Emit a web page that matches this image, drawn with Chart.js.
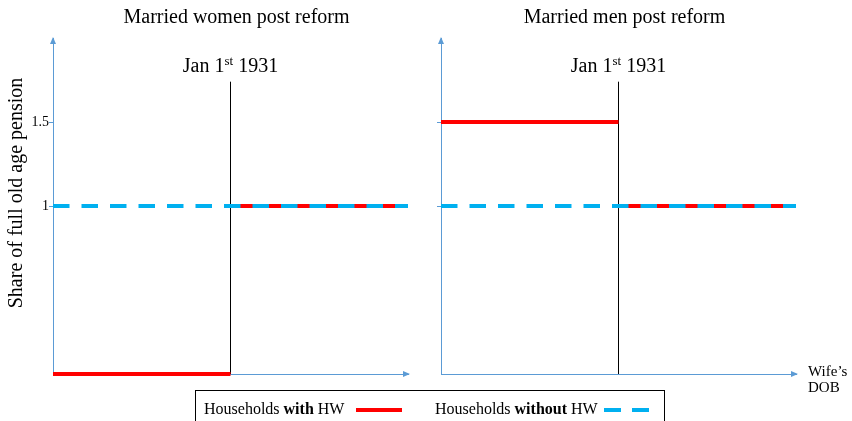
<!DOCTYPE html>
<html>
<head>
<meta charset="utf-8">
<script src="https://cdn.jsdelivr.net/npm/chart.js@4"></script>
<style>
  body { margin: 0; background: #fff; overflow: hidden; }
  .wrap { position: absolute; top: 0; height: 421px; }
  #legend {
    position: absolute; left: 195px; top: 390px; width: 468px; height: 50px;
    border: 1px solid #000; font-family: "Liberation Serif", "Times New Roman", serif;
    font-size: 16px; color: #000;
  }
  #legend span { position: absolute; top: 9px; white-space: nowrap; line-height: 18px; }
  #legend i { position: absolute; display: block; top: 17px; height: 4px; }
</style>
</head>
<body>
<div class="wrap" style="left:0;width:430px"><canvas id="women"></canvas></div>
<div class="wrap" style="left:430px;width:422px"><canvas id="men"></canvas></div>
<div id="legend">
  <span style="left:8px">Households <b>with</b> HW</span>
  <i style="left:160px;width:46px;background:#ff0000"></i>
  <span style="left:239px">Households <b>without</b> HW</span>
  <i style="left:408px;width:17px;background:#00b0f0"></i>
  <i style="left:436px;width:17px;background:#00b0f0"></i>
</div>
<script>
const panelTitles = ["Married women post reform", "Married men post reform"];
const cutoffText = ["Jan 1", "st", " 1931"];
const xRange = [0, 2];
const cutoffX = 1;
const withHWBefore = [0, 1.5];
const withHWAfter = [1, 1];
const withoutHW = [1, 1];
const cutoffLineTop = 1.74;
const yRange = [0, 2];
const yTickValues = [1, 1.5];
const yTitle = "Share of full old age pension";
const xTitle = ["Wife\u2019s", "DOB"];

const serif = '"Liberation Serif", "Times New Roman", serif';
const axisColor = "#5b9bd5";
const red = "#ff0000";
const blue = "#00b0f0";

const decor = {
  id: "decor",
  afterDraw(chart, args, opts) {
    const ctx = chart.ctx;
    const area = chart.chartArea;
    const x = chart.scales.x;
    const y = chart.scales.y;
    const cx = x.getPixelForValue(cutoffX);
    ctx.save();
    ctx.fillStyle = "#000";
    ctx.textBaseline = "alphabetic";

    // panel title
    ctx.font = "20px " + serif;
    ctx.textAlign = "center";
    ctx.fillText(opts.title, cx + 6, 23);

    // cutoff label with superscript
    const by = y.getPixelForValue(cutoffLineTop) - 10;
    ctx.font = "20px " + serif;
    const w1 = ctx.measureText(cutoffText[0]).width;
    const w3 = ctx.measureText(cutoffText[2]).width;
    ctx.font = "13px " + serif;
    const w2 = ctx.measureText(cutoffText[1]).width;
    let sx = cx - (w1 + w2 + w3) / 2;
    ctx.textAlign = "left";
    ctx.font = "20px " + serif;
    ctx.fillText(cutoffText[0], sx, by);
    ctx.font = "13px " + serif;
    ctx.fillText(cutoffText[1], sx + w1, by - 7);
    ctx.font = "20px " + serif;
    ctx.fillText(cutoffText[2], sx + w1 + w2, by);

    // axis arrows
    ctx.fillStyle = axisColor;
    ctx.beginPath();
    ctx.moveTo(area.left, area.top - 1);
    ctx.lineTo(area.left - 3, area.top + 6);
    ctx.lineTo(area.left + 3, area.top + 6);
    ctx.closePath();
    ctx.fill();
    ctx.beginPath();
    ctx.moveTo(area.right + 2, area.bottom);
    ctx.lineTo(area.right - 5, area.bottom - 3);
    ctx.lineTo(area.right - 5, area.bottom + 3);
    ctx.closePath();
    ctx.fill();

    ctx.fillStyle = "#000";
    if (opts.yTitle) {
      ctx.save();
      ctx.translate(22, 193);
      ctx.rotate(-Math.PI / 2);
      ctx.font = "20px " + serif;
      ctx.textAlign = "center";
      ctx.fillText(opts.yTitle, 0, 0);
      ctx.restore();
    }
    if (opts.xTitle) {
      ctx.font = "15px " + serif;
      ctx.textAlign = "left";
      ctx.fillText(opts.xTitle[0], area.right + 12, 376);
      ctx.fillText(opts.xTitle[1], area.right + 12, 392);
    }
    ctx.restore();
  }
};

function makePanel(id, i, leftWidth, rightPad, showLabels) {
  const data = {
    datasets: [
      {
        data: [{ x: xRange[0], y: withoutHW[i] }, { x: xRange[1], y: withoutHW[i] }],
        borderColor: blue,
        borderWidth: 4,
        borderDash: [16.5, 12],
        order: 0,
      },
      {
        data: [{ x: xRange[0], y: withHWBefore[i] }, { x: cutoffX, y: withHWBefore[i] }],
        borderColor: red,
        borderWidth: 4,
        order: 1,
      },
      {
        data: [{ x: cutoffX, y: withHWAfter[i] }, { x: xRange[1], y: withHWAfter[i] }],
        borderColor: red,
        borderWidth: 4,
        order: 1,
      },
      {
        data: [{ x: cutoffX, y: yRange[0] }, { x: cutoffX, y: cutoffLineTop }],
        borderColor: "#000",
        borderWidth: 1,
        order: 2,
      },
    ],
  };

  const config = {
    type: "scatter",
    data: data,
    options: {
      responsive: true,
      maintainAspectRatio: false,
      animation: false,
      showLine: true,
      clip: false,
      elements: { point: { radius: 0 }, line: { borderCapStyle: "butt" } },
      layout: { padding: { left: 0, right: rightPad, top: 38, bottom: 0 } },
      scales: {
        x: {
          type: "linear",
          min: xRange[0],
          max: xRange[1],
          grid: { display: false },
          ticks: { display: false },
          border: { color: axisColor, width: 1 },
          afterFit: (s) => { s.height = 47; },
        },
        y: {
          min: yRange[0],
          max: yRange[1],
          afterBuildTicks: (s) => { s.ticks = yTickValues.map((v) => ({ value: v })); },
          grid: { drawOnChartArea: false, tickLength: 4, color: axisColor },
          border: { color: axisColor, width: 1 },
          ticks: {
            display: showLabels,
            padding: 0,
            color: "#000",
            font: { family: serif, size: 14 },
            callback: (v) => String(v),
          },
          afterFit: (s) => { s.width = leftWidth; },
        },
      },
      plugins: {
        legend: { display: false },
        tooltip: { enabled: false },
        decor: {
          title: panelTitles[i],
          yTitle: i === 0 ? yTitle : null,
          xTitle: i === 1 ? xTitle : null,
        },
      },
    },
    plugins: [decor],
  };

  new Chart(document.getElementById(id), config);
}

makePanel("women", 0, 53, 22, true);
makePanel("men", 1, 11, 56, false);
</script>
</body>
</html>
